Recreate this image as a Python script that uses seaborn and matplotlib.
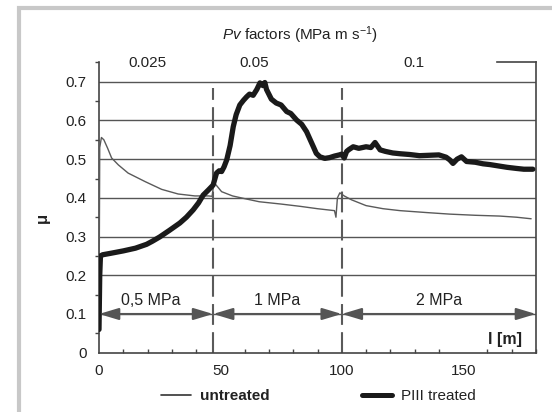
import matplotlib
matplotlib.use("Agg")
import matplotlib.pyplot as plt
from matplotlib.lines import Line2D
from matplotlib.patches import Rectangle
from matplotlib.ticker import MultipleLocator
import seaborn as sns
import pandas as pd

# ---- data ----
untreated_x = [0, 0.3, 1, 2, 3.5, 5.2, 8, 12, 19, 25.8, 32.6, 39.5, 45, 46.6, 47.3, 48,
               50.5, 55, 60, 66, 75, 83, 90, 97, 97.6, 98.2, 99.2, 101, 104, 110, 117,
               124, 135, 144.5, 155, 165, 172, 178]
untreated_y = [0.08, 0.53, 0.556, 0.55, 0.529, 0.503, 0.485, 0.464, 0.442, 0.422, 0.41,
               0.405, 0.405, 0.404, 0.438, 0.435, 0.416, 0.405, 0.398, 0.39, 0.384,
               0.378, 0.372, 0.367, 0.35, 0.40, 0.413, 0.405, 0.395, 0.38, 0.372,
               0.367, 0.362, 0.358, 0.355, 0.353, 0.35, 0.346]

treated_x = [0, 0.3, 0.6, 1.5, 5, 10, 15, 19.6, 22, 25, 29, 33.3, 36, 38.8, 41, 42.9, 45,
             47, 48.4, 49.5, 50.5, 51.5, 52.6, 54, 55.3, 56.5, 58, 59.5, 60.8, 62, 63.5,
             65, 66.3, 67.5, 68.3, 69, 71, 73, 75, 77.3, 79, 81.4, 83.5, 85.5, 87, 88.3,
             89.5, 91, 93, 95, 97, 99, 100, 101, 102, 103, 104.7, 107, 110, 112, 113.7,
             115.8, 118, 121, 124, 128, 132, 136, 140, 143, 144.5, 145.8, 147.5, 149.3,
             151.4, 155, 158.2, 161, 165, 168, 172, 175, 178.7]
treated_y = [0.06, 0.2, 0.25, 0.253, 0.257, 0.263, 0.27, 0.28, 0.288, 0.299, 0.316,
             0.335, 0.35, 0.369, 0.387, 0.407, 0.42, 0.433, 0.464, 0.47, 0.468, 0.48,
             0.498, 0.535, 0.584, 0.615, 0.64, 0.652, 0.661, 0.668, 0.665, 0.68, 0.697,
             0.69, 0.698, 0.68, 0.655, 0.645, 0.64, 0.623, 0.618, 0.601, 0.59, 0.571,
             0.55, 0.532, 0.515, 0.506, 0.502, 0.504, 0.508, 0.511, 0.513, 0.503, 0.52,
             0.525, 0.532, 0.528, 0.532, 0.53, 0.543, 0.524, 0.52, 0.516, 0.514, 0.512,
             0.509, 0.51, 0.511, 0.505, 0.498, 0.489, 0.5, 0.506, 0.494, 0.492, 0.488,
             0.486, 0.482, 0.479, 0.476, 0.474, 0.474]

boundaries = [47, 100]
pressure_labels = ["0,5 MPa", "1 MPa", "2 MPa"]
pressure_spans = [(0, 47), (47, 100), (100, 180)]
pv_labels = ["0.025", "0.05", "0.1"]
pv_positions = [20, 64, 129.6]
y_ticks = [0, 0.1, 0.2, 0.3, 0.4, 0.5, 0.6, 0.7]
x_ticks = [0, 50, 100, 150]

# ---- style ----
sns.set_style("white")
plt.rcParams["font.family"] = ["Liberation Sans", "DejaVu Sans"]
plt.rcParams["mathtext.fontset"] = "custom"
plt.rcParams["mathtext.rm"] = "Liberation Sans"
plt.rcParams["mathtext.it"] = "Liberation Sans:italic"

TXT = "#222222"
GRID = "#555555"

fig = plt.figure(figsize=(5.52, 4.12), dpi=100)
ax = fig.add_axes([99 / 552, 1 - 352.7 / 412, (536 - 99) / 552, (352.7 - 62) / 412])

df_u = pd.DataFrame({"l": untreated_x, "mu": untreated_y})
df_t = pd.DataFrame({"l": treated_x, "mu": treated_y})

for y in y_ticks[1:]:
    ax.axhline(y, color=GRID, lw=1.0, zorder=1)

for b in boundaries:
    ax.plot([b, b], [0, 0.685], color="#5a5a5a", lw=1.5, ls=(0, (10, 3.5)), zorder=2)

sns.lineplot(data=df_u, x="l", y="mu", ax=ax, color="#5a5a5a", lw=1.0,
             estimator=None, sort=False, zorder=3)
sns.lineplot(data=df_t, x="l", y="mu", ax=ax, color="#1a1a1a", lw=3.8,
             estimator=None, sort=False, zorder=4)

# pressure arrows
for (a, b), lab in zip(pressure_spans, pressure_labels):
    ax.annotate("", xy=(a, 0.1), xytext=(b, 0.1),
                arrowprops=dict(arrowstyle="<|-|>,head_length=0.6,head_width=0.18",
                                color="#555555", lw=1.5, shrinkA=0, shrinkB=0,
                                mutation_scale=20), zorder=5)
    ax.text((a + b) / 2 - (2 if a == 0 else 0), 0.134, lab, ha="center", va="center",
            fontsize=11.5, color=TXT)

ax.set_xlim(0, 180)
ax.set_ylim(0, 0.751)
ax.set_xticks(x_ticks)
ax.set_yticks(y_ticks)
ax.set_yticklabels(["0", "0.1", "0.2", "0.3", "0.4", "0.5", "0.6", "0.7"])
ax.xaxis.set_minor_locator(MultipleLocator(10))
ax.yaxis.set_minor_locator(MultipleLocator(0.05))
ax.tick_params(axis="both", which="major", labelsize=11, colors="#444444",
               labelcolor=TXT, length=4, width=1)
ax.tick_params(axis="x", which="major", direction="out", pad=4)
ax.tick_params(axis="x", which="minor", direction="in", length=3, width=1,
               colors="#444444", bottom=True)
ax.tick_params(axis="y", which="major", direction="out", pad=5)
ax.tick_params(axis="y", which="minor", direction="out", length=3, width=1,
               colors="#444444", left=True)
ax.set_xlabel("")
ax.set_ylabel("")

for s in ["left", "bottom", "right", "top"]:
    ax.spines[s].set_color("#444444")
    ax.spines[s].set_linewidth(1.2)
ax.spines["top"].set_bounds(164, 180)

# top pv labels and title
for lab, xp in zip(pv_labels, pv_positions):
    ax.text(xp, 0.749, lab, ha="center", va="center", fontsize=11, color=TXT,
            clip_on=False)
ax.text(83, 0.821, r"$\it{Pv}$ factors (MPa m s$^{-1}$)", ha="center", va="center",
        fontsize=11, color=TXT, clip_on=False)

ax.text(-0.13, 0.463, "μ", transform=ax.transAxes, rotation=90, ha="center",
        va="center", fontsize=12, fontweight="bold", color=TXT)
ax.text(174.2, 0.035, "l [m]", ha="right", va="center", fontsize=11.5,
        fontweight="bold", color=TXT)

# legend
handles = [Line2D([], [], color="#333333", lw=1.2),
           Line2D([], [], color="#1a1a1a", lw=3.6)]
leg = fig.legend(handles, ["untreated", "PIII treated"], loc="center",
                 bbox_to_anchor=(0.577, 1 - 396 / 412), ncol=2, frameon=False,
                 fontsize=11, handlelength=2.0, columnspacing=6.0, handletextpad=0.6)
leg.get_texts()[0].set_fontweight("bold")
for t in leg.get_texts():
    t.set_color(TXT)

# outer light gray frame
fig.patches.append(Rectangle((19 / 552, -0.05), 1.2, 1.05 - 8 / 412,
                             transform=fig.transFigure, fill=False,
                             edgecolor="#c8c8c8", lw=3, clip_on=False))

fig.savefig("out.png", dpi=100)
